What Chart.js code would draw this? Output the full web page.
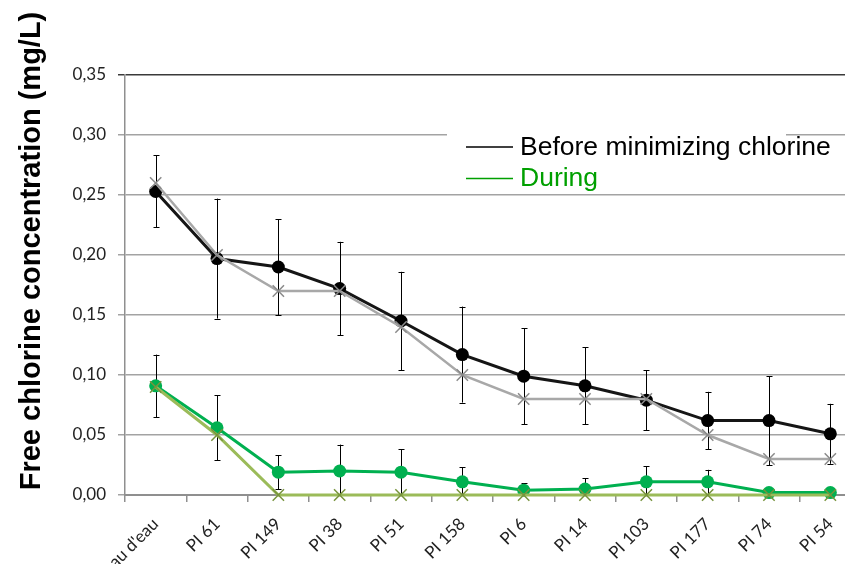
<!DOCTYPE html>
<html>
<head>
<meta charset="utf-8">
<title>Free chlorine concentration</title>
<script src="https://cdn.jsdelivr.net/npm/chart.js@4.4.1/dist/chart.umd.min.js"></script>
<style>
  html, body { margin: 0; padding: 0; background: #fff; overflow: hidden; }
  #wrap { position: absolute; left: 0; top: 0; width: 880px; height: 600px; }
</style>
</head>
<body>
<div id="wrap"><canvas id="c" width="880" height="600"></canvas></div>
<script>
// Sampling points along the network
const categories = ["Réseau d'eau", "PI 61", "PI 149", "PI 38", "PI 51", "PI 158", "PI 6", "PI 14", "PI 103", "PI 177", "PI 74", "PI 54"];

// Before minimizing chlorine: mean, standard deviation, median (mg/L)
const beforeMean   = [0.253, 0.197, 0.190, 0.172, 0.145, 0.117, 0.099, 0.091, 0.079, 0.062, 0.062, 0.051];
const beforeSd     = [0.030, 0.050, 0.040, 0.039, 0.041, 0.040, 0.040, 0.032, 0.025, 0.024, 0.037, 0.025];
const beforeMedian = [0.26, 0.20, 0.17, 0.17, 0.14, 0.10, 0.08, 0.08, 0.08, 0.05, 0.03, 0.03];

// During chlorine minimization: mean, standard deviation, median (mg/L)
const duringMean   = [0.091, 0.056, 0.019, 0.020, 0.019, 0.011, 0.004, 0.005, 0.011, 0.011, 0.002, 0.002];
const duringSd     = [0.026, 0.027, 0.014, 0.022, 0.019, 0.012, 0.006, 0.009, 0.013, 0.010, 0, 0];
const duringMedian = [0.09, 0.05, 0, 0, 0, 0, 0, 0, 0, 0, 0, 0];

// Axis range and tick labels
const yMin = 0, yMax = 0.35, yStep = 0.05;
const yTickLabels = ["0,00", "0,05", "0,10", "0,15", "0,20", "0,25", "0,30", "0,35"];

const yTitle = "Free chlorine concentration (mg/L)";
const legendItems = [
  { text: "Before minimizing chlorine", color: "#000000" },
  { text: "During", color: "#00a000" }
];

const CANVAS_H = 600;
const AXIS_BOTTOM = 495;

// Vertical error bars (mean ± sd) drawn through the value scale
const errorBars = {
  id: 'errorBars',
  beforeDatasetsDraw(chart) {
    const ctx = chart.ctx;
    const y = chart.scales.y;
    chart.data.datasets.forEach((ds, di) => {
      if (!ds.errors) return;
      const meta = chart.getDatasetMeta(di);
      ctx.save();
      ctx.strokeStyle = '#000';
      ctx.lineWidth = 1;
      meta.data.forEach((pt, i) => {
        const v = ds.data[i], e = ds.errors[i];
        if (!e) return;
        const hi = v + e, lo = Math.max(yMin, v - e);
        const yHi = y.getPixelForValue(hi), yLo = y.getPixelForValue(lo);
        const x = Math.round(pt.x) + 0.5;
        ctx.beginPath();
        ctx.moveTo(x, yHi); ctx.lineTo(x, yLo);
        ctx.moveTo(x - 3, Math.round(yHi) + 0.5); ctx.lineTo(x + 3, Math.round(yHi) + 0.5);
        if (v - e >= yMin) {
          ctx.moveTo(x - 3, Math.round(yLo) + 0.5); ctx.lineTo(x + 3, Math.round(yLo) + 0.5);
        }
        ctx.stroke();
      });
      ctx.restore();
    });
  }
};

// Axis title and the two-entry legend box
const decorations = {
  id: 'decorations',
  afterDraw(chart) {
    const ctx = chart.ctx;
    ctx.save();
    ctx.translate(40, 251);
    ctx.rotate(-Math.PI / 2);
    ctx.font = 'bold 29px "Liberation Sans", Arial, sans-serif';
    ctx.fillStyle = '#000';
    ctx.textAlign = 'center';
    ctx.textBaseline = 'alphabetic';
    ctx.fillText(yTitle, 0, 0);
    ctx.restore();

    ctx.save();
    ctx.fillStyle = '#fff';
    ctx.fillRect(447, 124, 339, 68);
    ctx.font = '26.5px "Liberation Sans", Arial, sans-serif';
    ctx.textBaseline = 'alphabetic';
    ctx.textAlign = 'left';
    legendItems.forEach((it, i) => {
      const ly = 147 + i * 31.5;
      ctx.strokeStyle = it.color;
      ctx.lineWidth = 1.5;
      ctx.beginPath();
      ctx.moveTo(466, ly); ctx.lineTo(513, ly);
      ctx.stroke();
      ctx.fillStyle = it.color;
      ctx.fillText(it.text, 520, ly + 7.5);
    });
    ctx.restore();
  }
};

function makeChart() {
  new Chart(document.getElementById('c'), {
    type: 'line',
    data: {
      labels: categories,
      datasets: [
        {
          label: 'Before (median)',
          data: beforeMedian,
          borderColor: '#a8a8a8', borderWidth: 2.5,
          pointStyle: 'crossRot', pointRadius: 8, pointBorderColor: '#8a8a8a', pointBorderWidth: 1.5,
          pointBackgroundColor: '#8a8a8a', tension: 0, clip: false
        },
        {
          label: 'Before minimizing chlorine',
          data: beforeMean, errors: beforeSd,
          borderColor: '#151515', borderWidth: 3,
          pointStyle: 'circle', pointRadius: 6.5, pointBorderWidth: 0,
          pointBackgroundColor: '#000', tension: 0, clip: false
        },
        {
          label: 'During (median)',
          data: duringMedian,
          borderColor: '#9bbb59', borderWidth: 3,
          pointStyle: 'crossRot', pointRadius: 8, pointBorderColor: '#77933c', pointBorderWidth: 1.5,
          pointBackgroundColor: '#77933c', tension: 0, clip: false
        },
        {
          label: 'During',
          data: duringMean, errors: duringSd,
          borderColor: '#00b050', borderWidth: 3,
          pointStyle: 'circle', pointRadius: 6.5, pointBorderWidth: 0,
          pointBackgroundColor: '#00b050', tension: 0, clip: false
        }
      ]
    },
    options: {
      responsive: false,
      animation: false,
      devicePixelRatio: 1,
      layout: { padding: { top: 75, right: 19, left: 0, bottom: 0 } },
      plugins: { legend: { display: false }, tooltip: { enabled: false } },
      scales: {
        x: {
          type: 'category',
          offset: true,
          grid: { offset: true, drawOnChartArea: false, drawTicks: true, tickLength: 7, color: '#8f8f8f', lineWidth: 1.5 },
          border: { color: '#8f8f8f', width: 2 },
          ticks: {
            autoSkip: false, minRotation: 45, maxRotation: 45, padding: 12,
            color: '#222', font: { family: 'Lato', size: 17 }
          },
          afterFit(scale) { scale.height = CANVAS_H - AXIS_BOTTOM; }
        },
        y: {
          min: yMin, max: yMax,
          ticks: {
            stepSize: yStep, padding: 12, color: '#222',
            font: { family: 'Lato', size: 17 },
            callback: (v) => yTickLabels[Math.round(v / yStep)]
          },
          grid: {
            drawTicks: true, tickLength: 7, lineWidth: 1.5,
            color: (c) => (c.tick && c.tick.value > yMax - 1e-6) ? '#3a3a3a' : '#a3a3a3'
          },
          border: { color: '#8f8f8f', width: 1.5 },
          afterFit(scale) { scale.width = 125; }
        }
      }
    },
    plugins: [errorBars, decorations]
  });
}

Promise.all([
  document.fonts.load('16px Lato'),
  document.fonts.load('bold 29px "Liberation Sans"'),
  document.fonts.load('26px "Liberation Sans"')
]).then(makeChart, makeChart);
</script>
</body>
</html>
